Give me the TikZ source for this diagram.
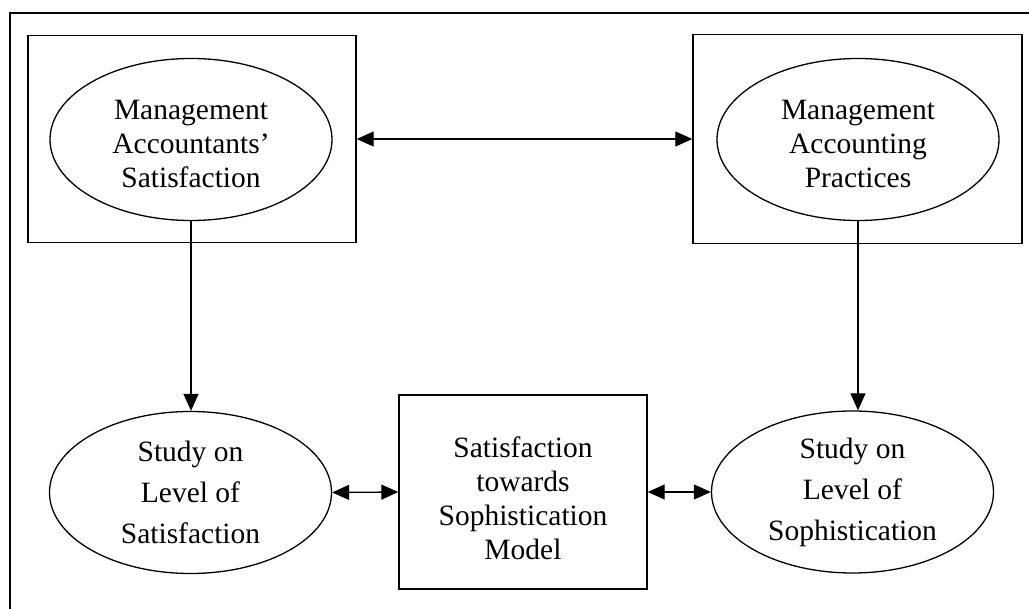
\documentclass[tikz,border=0pt]{standalone}
\usepackage{fontspec}
\setmainfont{Liberation Serif}
\usetikzlibrary{shapes.geometric,arrows.meta}
\begin{document}
\begin{tikzpicture}[x=1pt,y=-1pt,
  oval/.style={ellipse,draw,line width=1.3pt,inner sep=0pt,
    minimum width=282pt,minimum height=162pt,align=center},
  frame/.style={rectangle,draw,line width=1.4pt,inner sep=0pt},
  txt/.style={font=\fontsize{29.5}{34}\selectfont,align=center},
  wide/.style={font=\fontsize{29.5}{41}\selectfont},
  tip/.style={Triangle[length=17pt,width=15pt]},
  link/.style={line width=1.3pt,-{Triangle[length=17pt,width=15pt]}},
  both/.style={line width=1.3pt,{Triangle[length=17pt,width=15pt]}-{Triangle[length=17pt,width=15pt]}}]
  \useasboundingbox (0,0) rectangle (1029,609);
  % outer frame (only top and left edges fall inside the page)
  \draw[line width=2.2pt] (10,609) -- (10,13) -- (1029,13);
  % upper boxes with their ovals
  \node[frame,minimum width=328pt,minimum height=207pt] (lbox) at (192,139) {};
  \node[frame,minimum width=329pt,minimum height=209pt] (rbox) at (857.5,139) {};
  \node[oval] (tl) at (191,139.5) {};
  \node[oval] (tr) at (858,139.5) {};
  \node[txt] (tltext) at ([yshift=-4pt]tl.center) {Management\\Accountants’\\Satisfaction};
  \node[txt] (trtext) at ([yshift=-4pt]tr.center) {Management\\Accounting\\Practices};
  % lower row
  \node[oval,wide] (bl) at (190.5,492.5) {Study on\\Level of\\Satisfaction};
  \node[oval,wide] (br) at (852.5,492) {Study on\\Level of\\Sophistication};
  \node[frame,minimum width=248pt,minimum height=194pt] (mid) at (523,492) {};
  \node[txt] (midtext) at ([yshift=-6pt]mid.center)
    {Satisfaction\\towards\\Sophistication\\Model};
  % connectors
  \draw[both] (lbox.east) -- (rbox.west);
  \draw[link] (tl.south) -- (tl.south |- bl.north);
  \draw[link] (tr.south) -- (tr.south |- br.north);
  \draw[both] (bl.east) -- (mid.west);
  \draw[both] (mid.east) -- (br.west);
\end{tikzpicture}
\end{document}
